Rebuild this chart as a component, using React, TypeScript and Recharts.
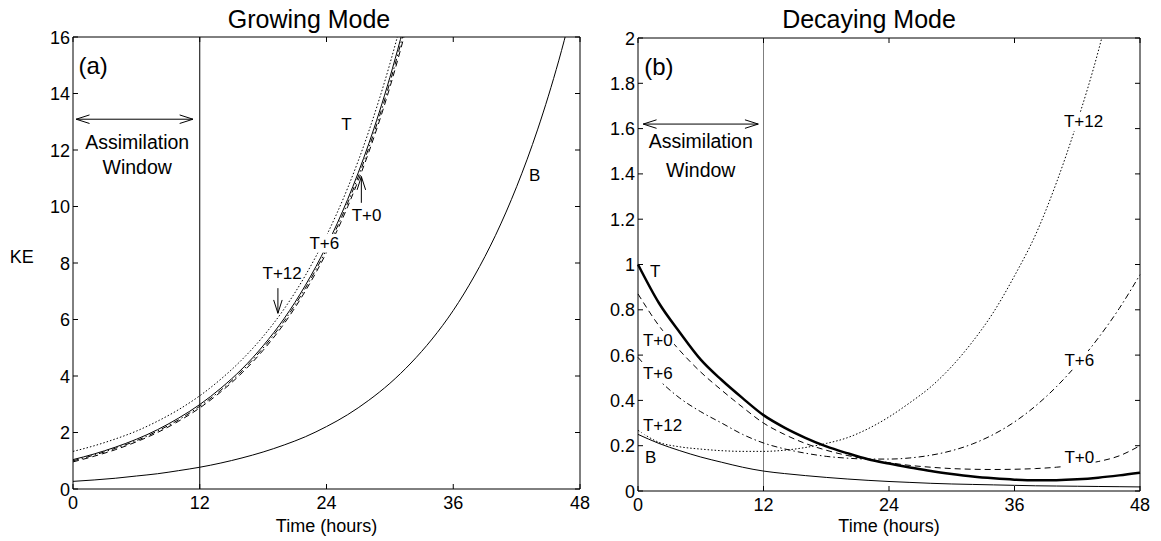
import { LineChart, Line, XAxis, YAxis, ReferenceLine, ReferenceDot } from 'recharts';

const FONT = '"Liberation Sans", Arial, Helvetica, sans-serif';

const HOURS = [0, 2, 4, 6, 8, 10, 12, 14, 16, 18, 20, 22, 24, 26, 28, 30, 32, 34, 36, 38, 40, 42, 44, 46, 48];
const X_TICKS = [0, 12, 24, 36, 48];
const GROW_TICKS = [0, 2, 4, 6, 8, 10, 12, 14, 16];
const DECAY_TICKS = [0, 0.2, 0.4, 0.6, 0.8, 1, 1.2, 1.4, 1.6, 1.8, 2];

// (a) growing mode, KE vs time; the T curves leave the top of the box near t=31
const growTruth = [1.04, 1.24, 1.48, 1.76, 2.1, 2.51, 2.99, 3.57, 4.25, 5.07, 6.04, 7.21, 8.6, 10.25, 12.22, 14.57, 17.38, 20.7];
const growT0 = [0.96, 1.16, 1.39, 1.67, 2.0, 2.4, 2.87, 3.44, 4.11, 4.91, 5.86, 7.01, 8.37, 9.99, 11.92, 14.22, 16.97, 20.2];
const growT6 = [1.0, 1.2, 1.44, 1.71, 2.05, 2.45, 2.93, 3.5, 4.18, 4.99, 5.95, 7.11, 8.48, 10.12, 12.07, 14.39, 17.18, 20.5];
const growT12 = [1.33, 1.53, 1.77, 2.05, 2.4, 2.81, 3.3, 3.89, 4.58, 5.4, 6.38, 7.56, 8.97, 10.65, 12.66, 15.05, 17.9, 21.3];
const growBase = [0.27, 0.32, 0.38, 0.46, 0.54, 0.65, 0.77, 0.92, 1.1, 1.31, 1.56, 1.85, 2.21, 2.63, 3.14, 3.74, 4.46, 5.31, 6.32, 7.54, 8.98, 10.7, 12.74, 15.18, 18.09];

// (b) decaying mode
const decayTruth = [1.0, 0.83, 0.7, 0.58, 0.49, 0.41, 0.335, 0.28, 0.235, 0.197, 0.167, 0.14, 0.121, 0.104, 0.088, 0.075, 0.064, 0.056, 0.05, 0.047, 0.048, 0.052, 0.059, 0.069, 0.081];
const decayT0 = [0.87, 0.73, 0.62, 0.525, 0.445, 0.37, 0.3, 0.25, 0.21, 0.18, 0.157, 0.14, 0.125, 0.113, 0.105, 0.099, 0.096, 0.095, 0.096, 0.099, 0.105, 0.115, 0.13, 0.155, 0.2];
const decayT6 = [0.59, 0.49, 0.41, 0.35, 0.3, 0.25, 0.212, 0.186, 0.167, 0.153, 0.145, 0.141, 0.141, 0.146, 0.158, 0.178, 0.208, 0.25, 0.305, 0.375, 0.46, 0.56, 0.675, 0.805, 0.955];
const decayT12 = [0.268, 0.215, 0.195, 0.185, 0.178, 0.175, 0.175, 0.18, 0.192, 0.21, 0.235, 0.275, 0.327, 0.39, 0.46, 0.55, 0.66, 0.79, 0.95, 1.13, 1.36, 1.63, 1.94, 2.32, 2.78];
const decayBase = [0.25, 0.21, 0.178, 0.15, 0.127, 0.105, 0.088, 0.077, 0.068, 0.06, 0.053, 0.047, 0.042, 0.038, 0.034, 0.031, 0.029, 0.027, 0.025, 0.023, 0.022, 0.021, 0.02, 0.019, 0.018];

const growRows = HOURS.map((t, i) => ({
  t,
  truth: growTruth[i] ?? null,
  t0: growT0[i] ?? null,
  t6: growT6[i] ?? null,
  t12: growT12[i] ?? null,
  base: growBase[i] ?? null,
}));

const decayRows = HOURS.map((t, i) => ({
  t,
  truth: decayTruth[i],
  t0: decayT0[i],
  t6: decayT6[i],
  t12: decayT12[i],
  base: decayBase[i],
}));

const DOTTED = '1.5 2';
const DASHED = '6 4';
const DASHDOT = '6 3 1.5 3';

// inward ticks, MATLAB style
function BottomTick({ x, y, payload }: any) {
  return (
    <g>
      <line x1={x} y1={y} x2={x} y2={y - 5} stroke="#000" />
      <text x={x} y={y + 20} textAnchor="middle" fontSize={18} fontFamily={FONT} fill="#000">
        {payload.value}
      </text>
    </g>
  );
}

function TopTick({ x, y }: any) {
  return <line x1={x} y1={y} x2={x} y2={y + 5} stroke="#000" />;
}

function LeftTick({ x, y, payload }: any) {
  return (
    <g>
      <line x1={x} y1={y} x2={x + 5} y2={y} stroke="#000" />
      <text x={x - 3} y={y + 6.5} textAnchor="end" fontSize={18} fontFamily={FONT} fill="#000">
        {payload.value}
      </text>
    </g>
  );
}

function RightTick({ x, y }: any) {
  return <line x1={x} y1={y} x2={x - 5} y2={y} stroke="#000" />;
}

function NoteText({ viewBox, text, size, bg }: any) {
  const cx = viewBox.x + viewBox.width / 2;
  const cy = viewBox.y + viewBox.height / 2;
  const w = text.length * size * 0.56 + 4;
  const h = size * 1.1;
  return (
    <g>
      {bg && <rect x={cx - w / 2} y={cy - h / 2} width={w} height={h} fill="#fff" />}
      <text x={cx} y={cy} textAnchor="middle" dominantBaseline="central" fontSize={size} fontFamily={FONT} fill="#000">
        {text}
      </text>
    </g>
  );
}

function note(x: number, y: number, text: string, size = 17, bg = false) {
  return (
    <ReferenceDot
      key={`${text}-${x}-${y}`}
      x={x}
      y={y}
      r={1}
      fill="none"
      stroke="none"
      label={(p: any) => <NoteText viewBox={p.viewBox} text={text} size={size} bg={bg} />}
    />
  );
}

function arrowShape(heads: 'start' | 'end' | 'both') {
  return (p: any) => {
    const { x1, y1, x2, y2 } = p;
    const a = Math.atan2(y2 - y1, x2 - x1);
    const L = 14;
    const w = 0.31;
    const head = (px: number, py: number, ang: number) =>
      `M${px - L * Math.cos(ang - w)},${py - L * Math.sin(ang - w)}L${px},${py}L${px - L * Math.cos(ang + w)},${py - L * Math.sin(ang + w)}`;
    let d = `M${x1},${y1}L${x2},${y2}`;
    if (heads !== 'start') d += head(x2, y2, a);
    if (heads !== 'end') d += head(x1, y1, a + Math.PI);
    return <path d={d} stroke="#000" strokeWidth={1} fill="none" />;
  };
}

function frame(domain: number[], ticks: number[]) {
  return [
    <XAxis key="xb" xAxisId={0} type="number" dataKey="t" domain={[0, 48]} ticks={X_TICKS} interval={0} height={1} tickSize={0} tickMargin={0} tickLine={false} axisLine={{ stroke: '#000' }} tick={<BottomTick />} />,
    <XAxis key="xt" xAxisId="top" orientation="top" type="number" dataKey="t" domain={[0, 48]} ticks={X_TICKS} interval={0} height={1} tickSize={0} tickMargin={0} tickLine={false} axisLine={{ stroke: '#000' }} tick={<TopTick />} />,
    <YAxis key="yl" yAxisId={0} type="number" domain={domain} ticks={ticks} interval={0} allowDataOverflow width={1} tickSize={0} tickMargin={0} tickLine={false} axisLine={{ stroke: '#000' }} tick={<LeftTick />} />,
    <YAxis key="yr" yAxisId="right" orientation="right" type="number" domain={domain} ticks={ticks} interval={0} allowDataOverflow width={1} tickSize={0} tickMargin={0} tickLine={false} axisLine={{ stroke: '#000' }} tick={<RightTick />} />,
  ];
}

function series(key: string, dash?: string, width = 1) {
  return (
    <Line
      key={key}
      type="monotone"
      dataKey={key}
      stroke="#000"
      strokeWidth={width}
      strokeDasharray={dash}
      dot={false}
      activeDot={false}
      isAnimationActive={false}
    />
  );
}

function GrowingChart() {
  return (
    <LineChart width={600} height={541} data={growRows} margin={{ top: 36, right: 19, bottom: 51, left: 72 }}>
      {frame([0, 16], GROW_TICKS)}
      <ReferenceLine x={12} stroke="#000" strokeWidth={1} />
      {series('base')}
      {series('t12', DOTTED)}
      {series('t0', DASHED)}
      {series('t6', DASHDOT)}
      {series('truth')}
      <ReferenceLine segment={[{ x: 0.3, y: 13.09 }, { x: 11.36, y: 13.09 }]} shape={arrowShape('both')} />
      <ReferenceLine segment={[{ x: 19.4, y: 7.11 }, { x: 19.4, y: 6.22 }]} shape={arrowShape('end')} />
      <ReferenceLine segment={[{ x: 27.3, y: 10.13 }, { x: 27.3, y: 11.06 }]} shape={arrowShape('end')} />
      {note(1.9, 15.0, '(a)', 24)}
      {note(6.08, 12.3, 'Assimilation', 19.5)}
      {note(6.08, 11.41, 'Window', 19.5)}
      {note(25.9, 12.9, 'T', 17)}
      {note(27.8, 9.67, 'T+0', 17)}
      {note(23.8, 8.7, 'T+6', 17, true)}
      {note(19.8, 7.64, 'T+12', 17)}
      {note(43.7, 11.1, 'B', 17)}
    </LineChart>
  );
}

function DecayingChart() {
  return (
    <LineChart width={561} height={541} data={decayRows} margin={{ top: 37, right: 20, bottom: 49, left: 37 }}>
      {frame([0, 2], DECAY_TICKS)}
      <ReferenceLine x={12} stroke="#7f7f7f" strokeWidth={1} />
      {series('base')}
      {series('t12', DOTTED)}
      {series('t0', DASHED)}
      {series('t6', DASHDOT)}
      {series('truth', undefined, 2.5)}
      <ReferenceLine segment={[{ x: 0.5, y: 1.62 }, { x: 11.5, y: 1.62 }]} shape={arrowShape('both')} />
      {note(2.0, 1.875, '(b)', 24)}
      {note(6.0, 1.547, 'Assimilation', 19.5)}
      {note(6.0, 1.418, 'Window', 19.5)}
      {note(1.65, 0.968, 'T', 17)}
      {note(1.9, 0.666, 'T+0', 17, true)}
      {note(1.9, 0.52, 'T+6', 17, true)}
      {note(2.35, 0.29, 'T+12', 17, true)}
      {note(1.2, 0.15, 'B', 17)}
      {note(42.6, 1.63, 'T+12', 17, true)}
      {note(42.2, 0.577, 'T+6', 17, true)}
      {note(42.2, 0.146, 'T+0', 17, true)}
    </LineChart>
  );
}

export default function App() {
  return (
    <div style={{ position: 'absolute', left: 0, top: 0, width: 1161, height: 541, background: '#fff', overflow: 'hidden' }}>
      <svg width={1161} height={541} style={{ position: 'absolute', left: 0, top: 0 }}>
        <g fontFamily={FONT} fill="#000">
          <text x={309} y={28} fontSize={25} textAnchor="middle">Growing Mode</text>
          <text x={869} y={28} fontSize={25} textAnchor="middle">Decaying Mode</text>
          <text x={326.5} y={532} fontSize={18} textAnchor="middle">Time (hours)</text>
          <text x={889} y={532} fontSize={18} textAnchor="middle">Time (hours)</text>
          <text x={21.7} y={263} fontSize={18} textAnchor="middle">KE</text>
        </g>
      </svg>
      <div style={{ position: 'absolute', left: 0, top: 0 }}>
        <GrowingChart />
      </div>
      <div style={{ position: 'absolute', left: 600, top: 0 }}>
        <DecayingChart />
      </div>
    </div>
  );
}
